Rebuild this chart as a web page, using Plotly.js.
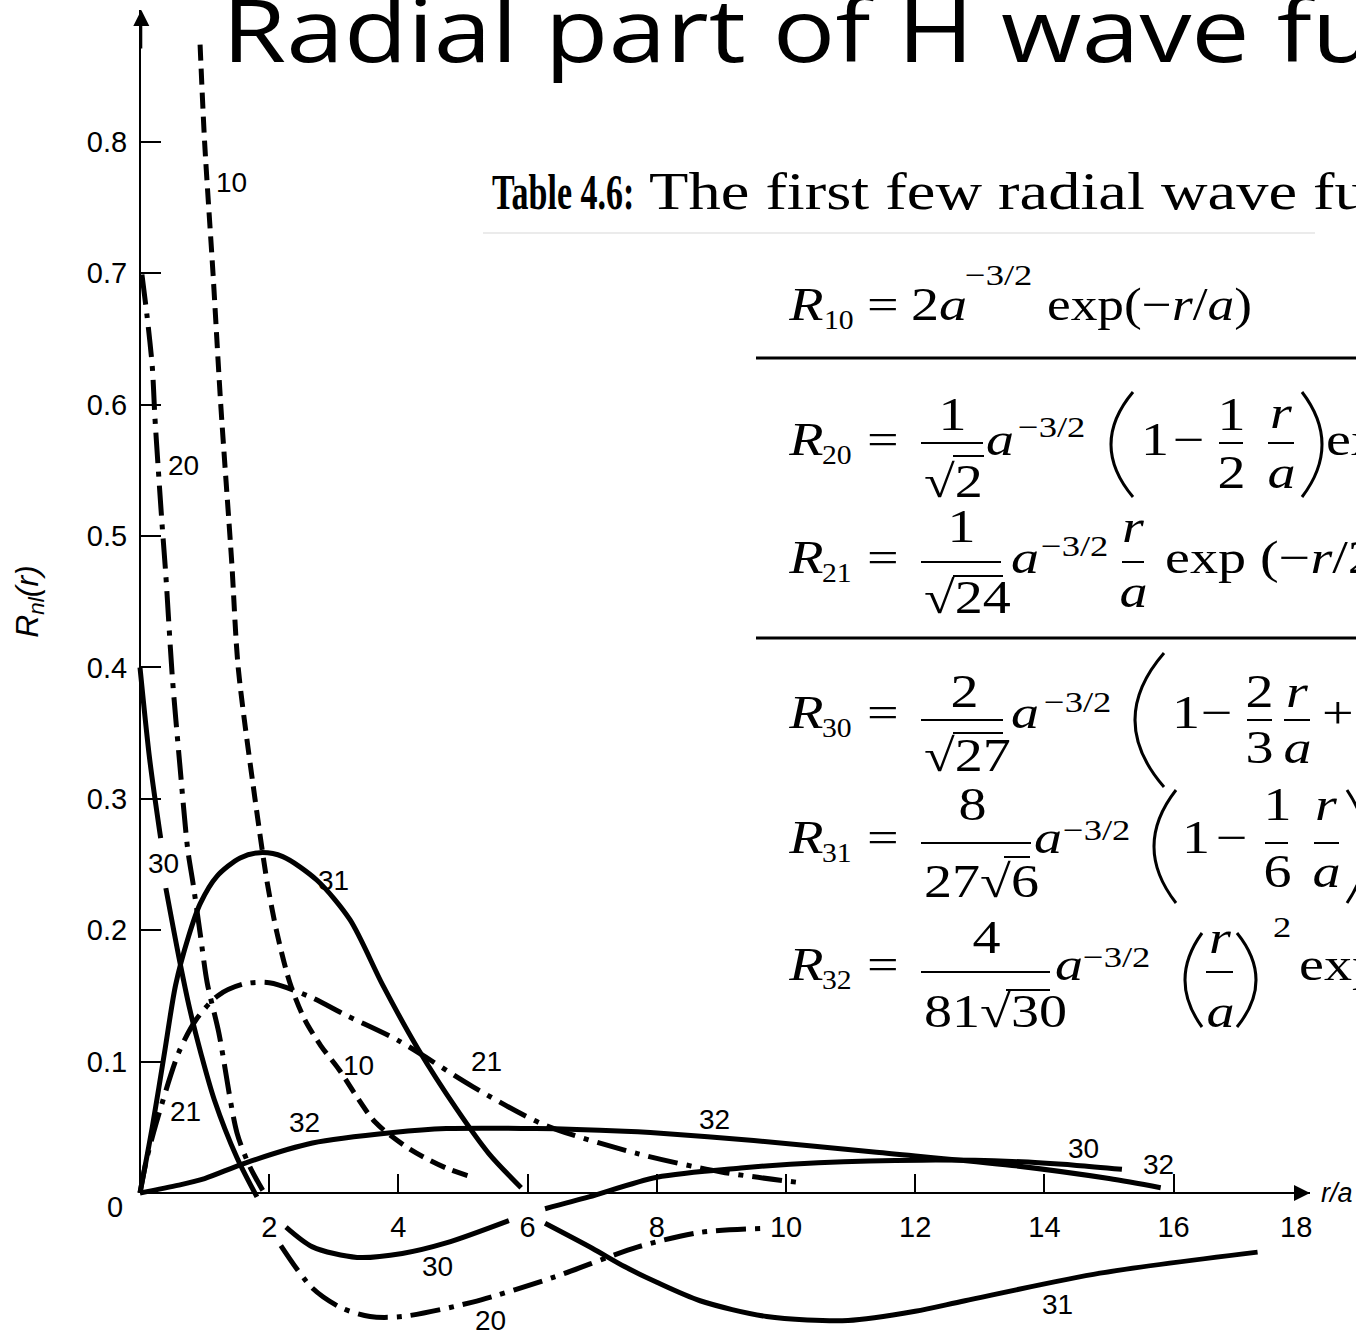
<!DOCTYPE html>
<html>
<head>
<meta charset="utf-8">
<script src="https://cdn.plot.ly/plotly-3.0.1.min.js"></script>
<style>
  html, body { margin: 0; padding: 0; background: #fff; }
  #chart { width: 1356px; height: 1334px; }
</style>
</head>
<body>
<div id="chart"></div>
<script>
// ---- radial functions R_nl(r), r in units of a ----
const r10 = [0.93, 1.00, 1.13, 1.25, 1.42, 1.52, 1.78, 1.97, 2.12, 2.32, 2.55, 2.80, 3.08, 3.64, 4.19, 4.74, 5.15];
const R10 = [0.874, 0.800, 0.700, 0.600, 0.480, 0.400, 0.300, 0.236, 0.198, 0.160, 0.132, 0.112, 0.094, 0.054, 0.033, 0.019, 0.012];

const r20 = [0.03, 0.11, 0.19, 0.23, 0.28, 0.34, 0.40, 0.50, 0.62, 0.74, 0.82, 0.93, 1.04, 1.22, 1.50, 1.70, 1.90, null, 2.18, 2.66, 3.10, 3.56, 4.06, 5.15, 6.41, 7.71, 8.67, 9.60];
const R20 = [0.699, 0.667, 0.629, 0.591, 0.553, 0.510, 0.470, 0.393, 0.324, 0.261, 0.236, 0.198, 0.160, 0.122, 0.046, 0.020, 0.002, null, -0.040, -0.072, -0.087, -0.094, -0.094, -0.083, -0.064, -0.041, -0.030, -0.027];

const r21 = [0, 0.10, 0.25, 0.60, 0.87, 1.20, 1.60, 2.00, 2.60, 3.20, 4.00, 5.15, 6.25, 7.70, 9.00, 10.20];
const R21 = [0, 0.025, 0.053, 0.107, 0.132, 0.150, 0.159, 0.160, 0.150, 0.135, 0.116, 0.081, 0.052, 0.030, 0.016, 0.008];

const r30 = [0, 0.15, 0.32, null, 0.40, 0.60, 0.77, 0.95, 1.15, 1.50, 1.81, null, 2.26, 2.67, 3.36, 4.06, 4.74, 5.71, null, 6.27, 6.95, 8.00, 9.30, 10.50, 12.10, 13.50, 14.50, 15.20];
const R30 = [0.400, 0.330, 0.270, null, 0.232, 0.180, 0.140, 0.105, 0.071, 0.027, -0.003, null, -0.026, -0.041, -0.049, -0.046, -0.038, -0.021, null, -0.012, -0.003, 0.012, 0.019, 0.023, 0.025, 0.024, 0.021, 0.018];

const r31 = [0, 0.19, 0.39, 0.55, 0.75, 0.93, 1.19, 1.55, 1.86, 2.21, 2.74, 3.25, 3.76, 4.30, 4.90, 5.40, 5.90, null, 6.27, 7.00, 7.50, 8.00, 8.67, 9.70, 10.96, 12.00, 12.77, 14.86, 17.30];
const R31 = [0, 0.050, 0.110, 0.158, 0.195, 0.220, 0.241, 0.255, 0.259, 0.256, 0.238, 0.208, 0.158, 0.110, 0.064, 0.030, 0.004, null, -0.023, -0.042, -0.056, -0.068, -0.082, -0.094, -0.097, -0.090, -0.082, -0.061, -0.045];

const r32 = [0, 0.60, 1.00, 1.64, 2.67, 3.92, 4.74, 6.13, 7.50, 7.90, 9.50, 11.40, 13.50, 15.00, 15.80];
const R32 = [0, 0.006, 0.011, 0.023, 0.038, 0.046, 0.049, 0.049, 0.047, 0.046, 0.040, 0.031, 0.021, 0.011, 0.004];

// axis ticks
const xTicks = [2, 4, 6, 8, 10, 12, 14, 16];
const xTickText = ['2', '4', '6', '8', '10', '12', '14', '16'];
const yTicks = [0.1, 0.2, 0.3, 0.4, 0.5, 0.6, 0.7, 0.8];
const yTickText = ['0.1', '0.2', '0.3', '0.4', '0.5', '0.6', '0.7', '0.8'];

// n,l tags written next to the curves
const tagText = ['10', '20', '30', '31', '21', '32', '10', '21', '32', '30', '32', '30', '20', '31'];
const tagR    = [1.42, 0.68, 0.36, 3.00, 0.70, 2.55, 3.39, 5.36, 8.90, 14.60, 15.76, 4.61, 5.43, 14.20];
const tagV    = [0.769, 0.554, 0.251, 0.238, 0.062, 0.054, 0.097, 0.100, 0.056, 0.034, 0.022, -0.056, -0.097, -0.085];

// ---- page geometry ----
const W = 1356, H = 1334;
const X0 = 140, KX = 64.6;      // pixel of r = 0, pixels per unit r/a
const Y0 = 1193, KY = 1314;     // pixel of R = 0, pixels per unit R
const SANS = 'Liberation Sans, Arial, sans-serif';
const SERIF = 'Liberation Serif, Times New Roman, serif';

const DASH = '16px,8px';
const DASHDOT = '30px,9px,5px,9px';

function curve(x, y, dash) {
  return {
    type: 'scatter', mode: 'lines', x: x, y: y,
    connectgaps: false, hoverinfo: 'skip', showlegend: false,
    line: { color: '#000', width: 5, dash: dash, shape: 'spline', smoothing: 0.8 }
  };
}

const traces = [
  curve(r10, R10, DASH),
  curve(r20, R20, DASHDOT),
  curve(r21, R21, DASHDOT),
  curve(r30, R30, 'solid'),
  curve(r31, R31, 'solid'),
  curve(r32, R32, 'solid'),
  // carries the drawn axes
  { type: 'scatter', x: [], y: [], xaxis: 'x2', yaxis: 'y2', hoverinfo: 'skip', showlegend: false }
];

// ---- helpers for the formula table (page pixels -> paper) ----
const px = x => x / W;
const py = y => 1 - y / H;

const ann = [];
const shp = [];
const widen = [];   // [annotation index, horizontal scale, anchor]

function txt(text, x, base, size, anchor, k) {
  ann.push({
    xref: 'paper', yref: 'paper', x: px(x), y: py(base - 0.3375 * size),
    xanchor: anchor || 'left', yanchor: 'middle', showarrow: false, borderpad: 0,
    text: text, font: { family: SERIF, size: size, color: '#000' }
  });
  if (k && k !== 1) widen.push([ann.length - 1, k, anchor || 'left']);
}
function rule(x1, x2, y, w, color) {
  shp.push({ type: 'line', xref: 'paper', yref: 'paper', x0: px(x1), x1: px(x2), y0: py(y), y1: py(y),
             line: { color: color || '#000', width: w || 2 } });
}
function paren(xEnd, xMid, yTop, yBot) {
  const cx = 2 * xMid - xEnd, ym = (yTop + yBot) / 2;
  shp.push({ type: 'path', xref: 'paper', yref: 'paper',
             path: `M ${px(xEnd)},${py(yTop)} Q ${px(cx)},${py(ym)} ${px(xEnd)},${py(yBot)}`,
             line: { color: '#000', width: 3 } });
}

const M = 46, S = 30, B = 27, K = 1.22;   // main, superscript, subscript sizes; width factor

// heading
txt('<b>Table 4.6:</b>', 491, 209, 50, 'left', 0.68);
txt('The first few radial wave functions', 648, 209, 52, 'left', 1.24);
rule(483, 1315, 233, 1.5, '#e4e4e4');

// R10
txt('<i>R</i>', 787, 320, M, 'left', K);
txt('10', 823, 329, B, 'left', 1.1);
txt('=', 866, 320, M, 'left', K);
txt('2<i>a</i>', 910, 320, M, 'left', K);
txt('−3/2', 964, 285, S, 'left', K);
txt('exp(−<i>r</i>/<i>a</i>)', 1046, 320, M, 'left', 1.16);
rule(756, 1356, 358, 3);

// R20
txt('<i>R</i>', 787, 455, M, 'left', K);
txt('20', 821, 464, B, 'left', 1.1);
txt('=', 866, 455, M, 'left', K);
txt('1', 952, 430, M, 'center', K);
rule(921, 983, 443, 2);
txt('√2', 923, 497, M, 'left', K);
rule(953, 984, 456, 2);
txt('<i>a</i>', 985, 455, M, 'left', K);
txt('−3/2', 1017, 437, S, 'left', K);
paren(1133, 1111, 392, 497);
txt('1', 1140, 455, M, 'left', K);
txt('−', 1172, 455, M, 'left', K);
txt('1', 1231, 430, M, 'center', K);
rule(1219, 1243, 443, 2);
txt('2', 1231, 488, M, 'center', K);
txt('<i>r</i>', 1281, 428, M, 'center', K);
rule(1268, 1294, 443, 2);
txt('<i>a</i>', 1281, 488, M, 'center', K);
paren(1302, 1322, 392, 497);
txt('exp(−<i>r</i>/2<i>a</i>)', 1325, 455, M, 'left', K);

// R21
txt('<i>R</i>', 787, 573, M, 'left', K);
txt('21', 821, 582, B, 'left', 1.1);
txt('=', 866, 573, M, 'left', K);
txt('1', 962, 542, M, 'center', K);
rule(921, 1001, 562, 2);
txt('√24', 923, 613, M, 'left', K);
rule(953, 1003, 576, 2);
txt('<i>a</i>', 1010, 573, M, 'left', K);
txt('−3/2', 1040, 556, S, 'left', K);
txt('<i>r</i>', 1133, 542, M, 'center', K);
rule(1122, 1144, 562, 2);
txt('<i>a</i>', 1133, 607, M, 'center', K);
txt('exp (−<i>r</i>/2<i>a</i>)', 1164, 573, M, 'left', K);
rule(756, 1356, 638, 3);

// R30
txt('<i>R</i>', 787, 728, M, 'left', K);
txt('30', 821, 737, B, 'left', 1.1);
txt('=', 866, 728, M, 'left', K);
txt('2', 964, 707, M, 'center', K);
rule(921, 1003, 720, 2);
txt('√27', 923, 771, M, 'left', K);
rule(953, 1003, 733, 2);
txt('<i>a</i>', 1010, 728, M, 'left', K);
txt('−3/2', 1043, 712, S, 'left', K);
paren(1164, 1135, 653, 787);
txt('1', 1171, 728, M, 'left', K);
txt('−', 1200, 728, M, 'left', K);
txt('2', 1259, 707, M, 'center', K);
rule(1247, 1272, 720, 2);
txt('3', 1259, 763, M, 'center', K);
txt('<i>r</i>', 1297, 707, M, 'center', K);
rule(1284, 1310, 720, 2);
txt('<i>a</i>', 1297, 763, M, 'center', K);
txt('+', 1321, 728, M, 'left', K);

// R31
txt('<i>R</i>', 787, 853, M, 'left', K);
txt('31', 821, 862, B, 'left', 1.1);
txt('=', 866, 853, M, 'left', K);
txt('8', 972, 820, M, 'center', K);
rule(921, 1031, 843, 2);
txt('27√6', 923, 897, M, 'left', K);
rule(1004, 1030, 857, 2);
txt('<i>a</i>', 1033, 853, M, 'left', K);
txt('−3/2', 1062, 840, S, 'left', K);
paren(1176, 1154, 790, 903);
txt('1', 1181, 853, M, 'left', K);
txt('−', 1215, 853, M, 'left', K);
txt('1', 1277, 820, M, 'center', K);
rule(1265, 1288, 843, 2);
txt('6', 1277, 887, M, 'center', K);
txt('<i>r</i>', 1326, 820, M, 'center', K);
rule(1314, 1339, 843, 2);
txt('<i>a</i>', 1326, 887, M, 'center', K);
paren(1347, 1366, 790, 903);

// R32
txt('<i>R</i>', 787, 980, M, 'left', K);
txt('32', 821, 989, B, 'left', 1.1);
txt('=', 866, 980, M, 'left', K);
txt('4', 986, 953, M, 'center', K);
rule(921, 1050, 972, 2);
txt('81√30', 923, 1027, M, 'left', K);
rule(1006, 1050, 990, 2);
txt('<i>a</i>', 1054, 980, M, 'left', K);
txt('−3/2', 1082, 967, S, 'left', K);
paren(1202, 1185, 933, 1027);
txt('<i>r</i>', 1220, 953, M, 'center', K);
rule(1206, 1233, 972, 2);
txt('<i>a</i>', 1220, 1027, M, 'center', K);
paren(1237, 1256, 933, 1027);
txt('2', 1272, 937, S, 'left', K);
txt('exp(−<i>r</i>/3<i>a</i>)', 1298, 980, M, 'left', K);

// tags on the curves
tagText.forEach((t, i) => {
  ann.push({ xref: 'x', yref: 'y', x: tagR[i], y: tagV[i], text: t, showarrow: false,
             xanchor: 'center', yanchor: 'middle', borderpad: 0,
             font: { family: SANS, size: 28, color: '#000' } });
});

// axis extras: origin label, last x label, unit, arrow heads
ann.push({ xref: 'x', yref: 'y', x: -0.387, y: -0.0107, text: '0', showarrow: false,
           font: { family: SANS, size: 29, color: '#000' } });
ann.push({ xref: 'x', yref: 'y', x: 17.9, y: -0.026, text: '18', showarrow: false,
           font: { family: SANS, size: 29, color: '#000' } });
ann.push({ xref: 'x', yref: 'y', x: 18.25, y: 0.0, text: '<i>r/a</i>', showarrow: false,
           xanchor: 'left', yanchor: 'middle', font: { family: SANS, size: 27, color: '#000' } });
ann.push({ xref: 'x', yref: 'y', x: (1310 - X0) / KX, y: 0, ax: -40, ay: 0, text: '',
           showarrow: true, arrowhead: 2, arrowsize: 1.6, arrowwidth: 2, arrowcolor: '#000', standoff: 0 });
ann.push({ xref: 'x', yref: 'y', x: 0.02, y: (Y0 - 10) / KY, ax: 0, ay: 40, text: '',
           showarrow: true, arrowhead: 2, arrowsize: 1.6, arrowwidth: 2, arrowcolor: '#000', standoff: 0 });

const layout = {
  width: W, height: H,
  margin: { l: 0, r: 0, t: 0, b: 0, pad: 0 },
  paper_bgcolor: '#fff', plot_bgcolor: 'rgba(0,0,0,0)',
  showlegend: false,
  title: {
    text: 'Radial part of H wave functions',
    font: { family: 'Open Sans, sans-serif', size: 104, color: '#000' },
    xref: 'container', yref: 'container',
    x: 222 / W, xanchor: 'left', y: 1 - 62 / H, yanchor: 'bottom'
  },
  xaxis: { domain: [0, 1], range: [-X0 / KX, (W - X0) / KX], visible: false, fixedrange: true },
  yaxis: { domain: [0, 1], range: [-(H - Y0) / KY, Y0 / KY], visible: false, fixedrange: true },
  xaxis2: {
    domain: [X0 / W, 1310 / W], range: [0, (1310 - X0) / KX],
    anchor: 'free', position: (H - Y0) / H,
    showline: true, linecolor: '#000', linewidth: 2,
    ticks: 'inside', ticklen: 18, tickwidth: 2, tickcolor: '#000',
    tickmode: 'array', tickvals: xTicks, ticktext: xTickText,
    tickfont: { family: SANS, size: 29, color: '#000' }, ticklabelstandoff: 8,
    showgrid: false, zeroline: false, fixedrange: true
  },
  yaxis2: {
    domain: [(H - Y0) / H, (H - 10) / H], range: [0, (Y0 - 10) / KY],
    anchor: 'free', position: X0 / W, side: 'left',
    showline: true, linecolor: '#000', linewidth: 2,
    ticks: 'inside', ticklen: 20, tickwidth: 2, tickcolor: '#000',
    tickmode: 'array', tickvals: yTicks, ticktext: yTickText,
    tickfont: { family: SANS, size: 29, color: '#000' }, ticklabelstandoff: 6,
    showgrid: false, zeroline: false, fixedrange: true,
    title: { text: '<i>R<sub>nl</sub>(r)</i>', font: { family: SANS, size: 32, color: '#000' }, standoff: 38 }
  },
  annotations: ann,
  shapes: shp
};

const gd = document.getElementById('chart');
Plotly.newPlot(gd, traces, layout, { staticPlot: true, displayModeBar: false }).then(() => {
  // the scanned table lettering runs wider (or narrower, for the bold heading) than the stock face
  widen.forEach(([i, k, anchor]) => {
    const t = gd.querySelector('.annotation[data-index="' + i + '"] text');
    if (!t) return;
    t.style.transformBox = 'fill-box';
    t.style.transformOrigin = (anchor === 'center' ? '50%' : '0') + ' 50%';
    t.style.transform = 'scaleX(' + k + ')';
  });
  // the heading letters sit a little flatter than the face's own proportions
  const title = gd.querySelector('.gtitle');
  if (title) {
    title.style.transformBox = 'view-box';
    title.style.transformOrigin = '0px 62px';
    title.style.transform = 'scaleY(0.85)';
  }
});
</script>
</body>
</html>
